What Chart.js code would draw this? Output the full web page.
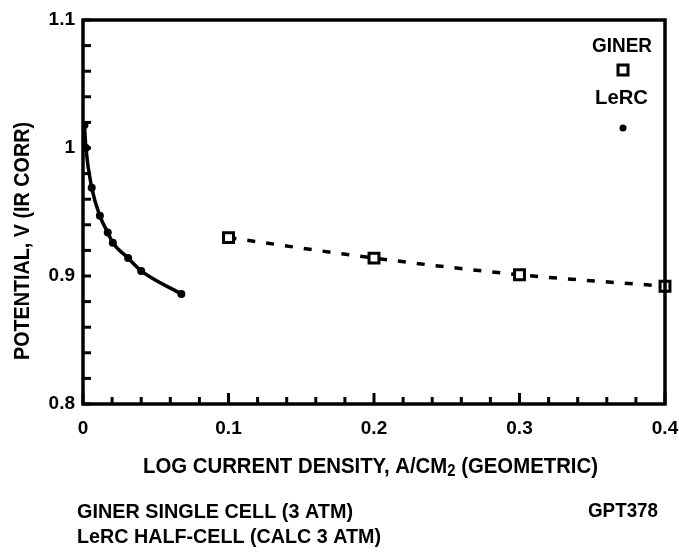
<!DOCTYPE html>
<html>
<head>
<meta charset="utf-8">
<script src="https://cdn.jsdelivr.net/npm/chart.js@4.4.1/dist/chart.umd.min.js"></script>
<style>
  html, body { margin: 0; padding: 0; background: #fff; }
</style>
</head>
<body>
<canvas id="grafico" width="679" height="555"></canvas>
<script>
// LeRC half-cell (calc 3 atm) - linha cheia com pontos
const lercX = [0.001, 0.002, 0.006, 0.0116, 0.017, 0.0205, 0.031, 0.040, 0.0676];
const lercY = [1.018, 1.000, 0.969, 0.947, 0.934, 0.926, 0.914, 0.904, 0.886];
// Giner single cell (3 atm) - linha tracejada com quadrados
const ginerX = [0.1, 0.2, 0.3, 0.4];
const ginerY = [0.930, 0.914, 0.901, 0.892];
// ticks
const xTicks = [0, 0.1, 0.2, 0.3, 0.4];
const yTicks = [0.8, 0.9, 1, 1.1];
const minorStep = 0.02;

const FONT = '"Liberation Sans Narrow", "Liberation Sans", Arial, sans-serif';

// escreve texto esticado/encolhido para caber numa largura
function fitText(ctx, parts, x, y, w, rot) {
  ctx.save();
  let total = 0;
  parts.forEach((p) => { ctx.font = p.font; p.w = ctx.measureText(p.t).width; total += p.w; });
  ctx.translate(x, y);
  if (rot) ctx.rotate(rot);
  ctx.scale(w / total, 1);
  ctx.fillStyle = '#000';
  ctx.textAlign = 'left';
  ctx.textBaseline = 'middle';
  let cx = 0;
  parts.forEach((p) => { ctx.font = p.font; ctx.fillText(p.t, cx, p.dy || 0); cx += p.w; });
  ctx.restore();
}

const decoracao = {
  id: 'decoracao',
  afterDraw(chart) {
    const { ctx, chartArea: a, scales: { x, y } } = chart;
    ctx.save();
    ctx.strokeStyle = '#000';
    ctx.lineCap = 'butt';

    // ticks para dentro
    ctx.lineWidth = 3;
    for (let i = 0; i <= 20; i++) {
      const v = i * minorStep;
      const px = x.getPixelForValue(v);
      const len = i % 5 === 0 ? 11 : 7;
      ctx.beginPath();
      ctx.moveTo(px, a.bottom);
      ctx.lineTo(px, a.bottom - len);
      ctx.stroke();
    }
    for (let i = 0; i <= 15; i++) {
      const v = 0.8 + i * minorStep;
      const py = y.getPixelForValue(v);
      ctx.beginPath();
      ctx.moveTo(a.left, py);
      ctx.lineTo(a.left + 8, py);
      ctx.stroke();
    }

    // moldura
    ctx.lineWidth = 3.5;
    ctx.strokeRect(a.left, a.top, a.right - a.left, a.bottom - a.top);

    // legenda
    fitText(ctx, [{ t: 'GINER', font: 'bold 21px ' + FONT }], 592, 46, 60);
    ctx.fillStyle = '#fff';
    ctx.lineWidth = 3;
    ctx.fillRect(618, 65, 10, 10);
    ctx.strokeRect(618, 65, 10, 10);
    fitText(ctx, [{ t: 'LeRC', font: 'bold 21px ' + FONT }], 595, 98, 53);
    ctx.fillStyle = '#000';
    ctx.beginPath();
    ctx.arc(623, 128, 3.5, 0, Math.PI * 2);
    ctx.fill();

    // titulos dos eixos
    fitText(ctx, [
      { t: 'LOG CURRENT DENSITY, A/CM', font: 'bold 22px ' + FONT },
      { t: '2', font: 'bold 16px ' + FONT, dy: 5 },
      { t: ' (GEOMETRIC)', font: 'bold 22px ' + FONT }
    ], 143, 467, 455);
    fitText(ctx, [{ t: 'POTENTIAL, V (IR CORR)', font: 'bold 22px ' + FONT }], 23, 360, 238, -Math.PI / 2);

    // rodape
    fitText(ctx, [{ t: 'GINER SINGLE CELL (3 ATM)', font: 'bold 21px ' + FONT }], 77, 512, 276);
    fitText(ctx, [{ t: 'LeRC HALF-CELL (CALC 3 ATM)', font: 'bold 21px ' + FONT }], 77, 537, 304);
    fitText(ctx, [{ t: 'GPT378', font: 'bold 21px ' + FONT }], 588, 511, 70);
    ctx.restore();
  }
};

const fmt = (v) => Number(Number(v).toFixed(1)).toString();

new Chart(document.getElementById('grafico'), {
  type: 'scatter',
  data: {
    datasets: [
      {
        label: 'LeRC',
        data: lercX.map((v, i) => ({ x: v, y: lercY[i] })),
        showLine: true,
        borderColor: '#000',
        backgroundColor: '#000',
        borderWidth: 3.5,
        pointRadius: 4,
        pointBorderWidth: 0,
        cubicInterpolationMode: 'monotone'
      },
      {
        label: 'GINER',
        data: ginerX.map((v, i) => ({ x: v, y: ginerY[i] })),
        showLine: true,
        borderColor: '#000',
        backgroundColor: '#fff',
        borderWidth: 3.5,
        borderDash: [8, 11],
        pointStyle: 'rect',
        pointRadius: 7,
        pointBorderWidth: 3,
        pointBorderColor: '#000',
        pointBackgroundColor: '#fff',
        cubicInterpolationMode: 'monotone',
        clip: false
      }
    ]
  },
  options: {
    responsive: false,
    animation: false,
    events: [],
    layout: { padding: { top: 20, right: 14, left: 0, bottom: 0 } },
    plugins: { legend: { display: false }, tooltip: { enabled: false } },
    scales: {
      x: {
        type: 'linear',
        min: 0,
        max: 0.4,
        grid: { display: false, drawTicks: false },
        border: { display: false },
        afterBuildTicks: (s) => { s.ticks = xTicks.map((v) => ({ value: v })); },
        afterFit: (s) => { s.height = 151; s.paddingLeft = 0; s.paddingRight = 0; },
        ticks: {
          padding: 13,
          color: '#000',
          maxRotation: 0,
          font: { family: FONT, size: 19, weight: 'bold' },
          callback: fmt
        }
      },
      y: {
        type: 'linear',
        min: 0.8,
        max: 1.1,
        grid: { display: false, drawTicks: false },
        border: { display: false },
        afterBuildTicks: (s) => { s.ticks = yTicks.map((v) => ({ value: v })); },
        afterFit: (s) => { s.width = 83; s.paddingTop = 0; s.paddingBottom = 0; },
        ticks: {
          padding: 8,
          color: '#000',
          font: { family: FONT, size: 19, weight: 'bold' },
          callback: fmt
        }
      }
    }
  },
  plugins: [decoracao]
});
</script>
</body>
</html>
